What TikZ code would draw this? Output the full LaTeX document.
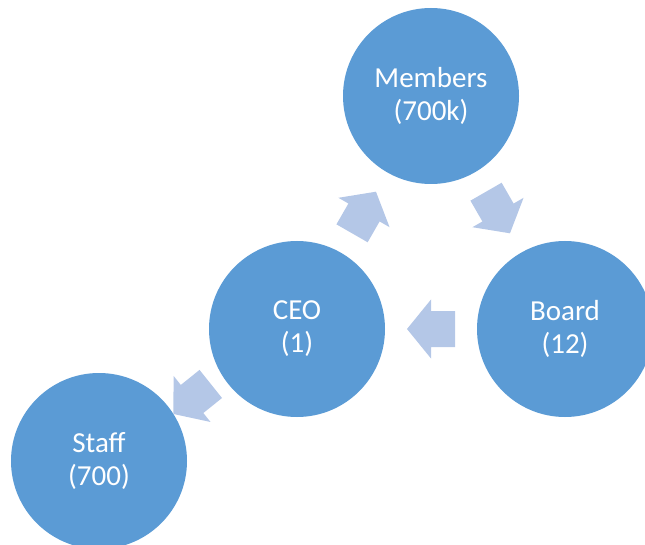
\documentclass[tikz,border=0pt]{standalone}
\usepackage{fontspec}
\setmainfont{Carlito}
\usetikzlibrary{calc}
\definecolor{bubblefill}{RGB}{91,155,213}
\definecolor{flowfill}{RGB}{180,199,231}
\tikzset{
  bubble/.style={circle, fill=bubblefill, minimum size=176pt, inner sep=0pt, text=white, align=center, font=\fontsize{29}{33}\selectfont},
  flowarrow/.pic={\fill[flowfill] (-24,-18) -- (0,-18) -- (0,-29.5) -- (24,0) -- (0,29.5) -- (0,18) -- (-24,18) -- cycle;}
}

\begin{document}
\begin{tikzpicture}[x=1pt, y=-1pt]
			%%%%% START %%%%%
			\useasboundingbox (0,0) rectangle (645,545);
			
			\node[bubble] (members) at (431, 96) {Members\\(700k)};
			\node[bubble] (board) at (565, 329) {Board\\(12)};
			\node[bubble] (ceo) at (297, 329) {CEO\\(1)};
			\node[bubble] (staff) at (99, 461) {Staff\\(700)};
			
			\path (ceo.center) -- (members.center) pic[pos=.5, sloped, allow upside down] {flowarrow};
			\path (members.center) -- (board.center) pic[pos=.5, sloped, allow upside down] {flowarrow};
			\path (board.center) -- (ceo.center) pic[pos=.5, sloped, allow upside down] {flowarrow};
			\path (ceo.center) -- (staff.center) pic[pos=.53, sloped, allow upside down, rotate=5] {flowarrow};
			
			%%%%% END %%%%%
\end{tikzpicture}
\end{document}
